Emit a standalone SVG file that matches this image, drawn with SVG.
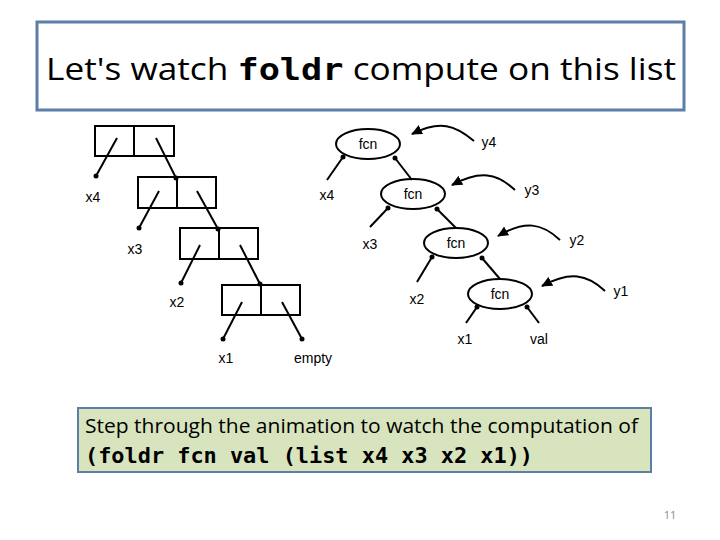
<svg xmlns="http://www.w3.org/2000/svg" width="720" height="540" viewBox="0 0 720 540">
<defs>
<style>
.b{fill:none;stroke:#000;stroke-width:2}
.l{stroke:#000;stroke-width:2;fill:none}
.t{font-family:"Liberation Sans",Arial,sans-serif;font-size:14px;fill:#000}
.c{font-family:"Open Sans","Liberation Sans",sans-serif;fill:#000}
.m{font-family:"DejaVu Sans Mono","Liberation Mono",monospace;font-weight:bold;fill:#000}
</style>
<marker id="dot" markerWidth="6" markerHeight="6" refX="3" refY="3" markerUnits="userSpaceOnUse"><circle cx="3" cy="3" r="2.5" fill="#000"/></marker>
<marker id="ah" markerWidth="12" markerHeight="10" refX="10" refY="5" orient="auto" markerUnits="userSpaceOnUse"><path d="M0,0 L11,5 L0,10 Z" fill="#000"/></marker>
</defs>
<rect width="720" height="540" fill="#fff"/>
<g id="title">
<rect x="37" y="22" width="647" height="88" fill="#fff" stroke="#5b7fa8" stroke-width="3"/>
<text x="46" y="80" class="c" font-size="31" textLength="630" lengthAdjust="spacingAndGlyphs">Let's watch <tspan class="m">foldr</tspan> compute on this list</text>
</g>
<g id="cells">
<rect class="b" x="95" y="126" width="79" height="30"/><line class="l" x1="134" y1="126" x2="134" y2="156"/>
<rect class="b" x="138" y="177" width="78" height="31"/><line class="l" x1="177" y1="177" x2="177" y2="208"/>
<rect class="b" x="180" y="228" width="78" height="31"/><line class="l" x1="219" y1="228" x2="219" y2="259"/>
<rect class="b" x="222" y="285" width="78" height="30"/><line class="l" x1="261" y1="285" x2="261" y2="315"/>
</g>
<g id="fcns">
<ellipse class="b" cx="368" cy="144" rx="32" ry="15"/><text class="t" x="368" y="149" text-anchor="middle">fcn</text>
<ellipse class="b" cx="413" cy="194" rx="32" ry="15"/><text class="t" x="413" y="199" text-anchor="middle">fcn</text>
<ellipse class="b" cx="456" cy="243" rx="32" ry="15"/><text class="t" x="456" y="248" text-anchor="middle">fcn</text>
<ellipse class="b" cx="500" cy="294" rx="32" ry="15"/><text class="t" x="500" y="299" text-anchor="middle">fcn</text>
</g>
<g id="labels" class="t">
<text x="93" y="202" text-anchor="middle">x4</text>
<text x="135" y="254" text-anchor="middle">x3</text>
<text x="177" y="307" text-anchor="middle">x2</text>
<text x="226" y="363" text-anchor="middle">x1</text>
<text x="313" y="363" text-anchor="middle">empty</text>
<text x="327" y="200" text-anchor="middle">x4</text>
<text x="370" y="249" text-anchor="middle">x3</text>
<text x="417" y="304" text-anchor="middle">x2</text>
<text x="465" y="344" text-anchor="middle">x1</text>
<text x="539" y="344" text-anchor="middle">val</text>
<text x="489" y="147" text-anchor="middle">y4</text>
<text x="532" y="195" text-anchor="middle">y3</text>
<text x="577" y="245" text-anchor="middle">y2</text>
<text x="621" y="296" text-anchor="middle">y1</text>
</g>
<g id="connectors">
<line class="l" x1="117" y1="138" x2="96" y2="176" marker-end="url(#dot)"/>
<line class="l" x1="156" y1="138" x2="176" y2="178" marker-end="url(#dot)"/>
<line class="l" x1="159" y1="191" x2="139" y2="228" marker-end="url(#dot)"/>
<line class="l" x1="197" y1="191" x2="218" y2="229" marker-end="url(#dot)"/>
<line class="l" x1="200" y1="245" x2="181" y2="283" marker-end="url(#dot)"/>
<line class="l" x1="240" y1="245" x2="260" y2="284" marker-end="url(#dot)"/>
<line class="l" x1="242" y1="302" x2="223" y2="339" marker-end="url(#dot)"/>
<line class="l" x1="282" y1="302" x2="302" y2="339" marker-end="url(#dot)"/>
<line class="l" x1="327" y1="180" x2="343" y2="157" marker-end="url(#dot)"/>
<line class="l" x1="412" y1="180" x2="395" y2="158" marker-end="url(#dot)"/>
<line class="l" x1="370" y1="227" x2="388" y2="208" marker-end="url(#dot)"/>
<line class="l" x1="456" y1="228" x2="437" y2="209" marker-end="url(#dot)"/>
<line class="l" x1="417" y1="282" x2="432" y2="257" marker-end="url(#dot)"/>
<line class="l" x1="500" y1="279" x2="482" y2="258" marker-end="url(#dot)"/>
<line class="l" x1="466" y1="323" x2="477" y2="307" marker-end="url(#dot)"/>
<line class="l" x1="539" y1="323" x2="527" y2="307" marker-end="url(#dot)"/>
<path class="l" d="M474,141 C455,125 440,120 412,134" marker-end="url(#ah)"/>
<path class="l" d="M515,190 C497,173 480,170 452,185" marker-end="url(#ah)"/>
<path class="l" d="M560,240 C542,223 525,220 498,236" marker-end="url(#ah)"/>
<path class="l" d="M605,291 C587,274 570,271 542,286" marker-end="url(#ah)"/>
</g>
<g id="note">
<rect x="78" y="408" width="573" height="64" fill="#d7e4bd" stroke="#5b7fa8" stroke-width="2"/>
<text x="85" y="433" class="c" font-size="20" textLength="553" lengthAdjust="spacingAndGlyphs">Step through the animation to watch the computation of</text>
<text x="85" y="463" class="m" font-size="21" textLength="448" lengthAdjust="spacingAndGlyphs">(foldr fcn val (list x4 x3 x2 x1))</text>
</g>
<text x="670" y="519" class="c" font-size="11" fill="#888" text-anchor="middle" style="fill:#888">11</text>
</svg>
